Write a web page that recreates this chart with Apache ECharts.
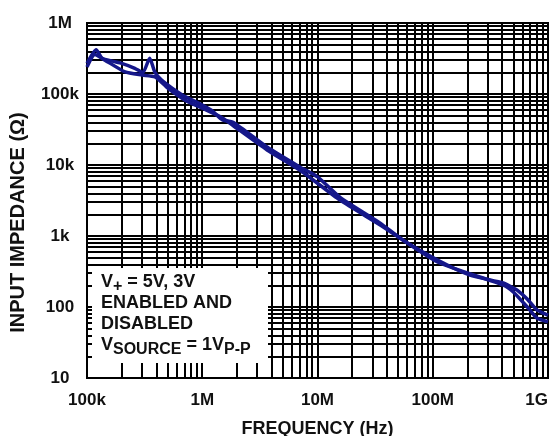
<!DOCTYPE html>
<html>
<head>
<meta charset="utf-8">
<script src="https://cdn.jsdelivr.net/npm/echarts@6/dist/echarts.min.js"></script>
<style>
html,body{margin:0;padding:0;background:#fff;}
#c{width:558px;height:436px;}
</style>
</head>
<body>
<div id="c"></div>
<script>
// ---- data ----
var xTickLabels = ['100k', '1M', '10M', '100M', '1G'];
var yTickLabels = ['10', '100', '1k', '10k', '100k', '1M'];

// curve 1 (with bump near 350kHz)
var freqA = [1.0e5, 1.2e5, 1.35e5, 1.65e5, 2.0e5, 2.6e5, 3.05e5, 3.5e5, 3.9e5, 4.75e5, 6.7e5, 9.2e5, 1.2e6, 1.5e6, 1.85e6, 3.65e6, 7.0e6, 1.0e7, 1.57e7, 3.5e7, 5.5e7, 1.1e8, 2.1e8, 4.1e8, 5.0e8, 5.4e8, 6.6e8, 8.0e8, 1.0e9];
var zA    = [2.7e5, 4.2e5, 3.2e5, 2.9e5, 2.7e5, 2.3e5, 2.0e5, 3.2e5, 2.0e5, 1.43e5, 9.7e4, 7.5e4, 5.9e4, 4.3e4, 4.0e4, 1.79e4, 9.4e3, 6.8e3, 3.5e3, 1.52e3, 880, 460, 282, 218, 185, 173, 130, 91, 77];

// curve 2
var freqB = [1.0e5, 1.17e5, 1.43e5, 2.14e5, 3.0e5, 3.9e5, 5.05e5, 7.1e5, 1.0e6, 1.5e6, 1.85e6, 3.65e6, 7.0e6, 1.57e7, 3.5e7, 1.1e8, 4.1e8, 5.0e8, 6.8e8, 8.0e8, 1.0e9];
var zB    = [2.4e5, 3.6e5, 3.0e5, 2.05e5, 1.85e5, 1.74e5, 1.2e5, 8.2e4, 6.3e4, 4.6e4, 3.6e4, 1.63e4, 8.5e3, 3.2e3, 1.43e3, 430, 204, 163, 95, 70, 62];

var xMin = 1e5, xMax = 1e9, yMin = 10, yMax = 1e6;
var minorMultiples = [2, 3, 4, 5, 6, 7, 8, 9];

// ---- build ----
function pairs(xs, ys) { return xs.map(function (x, i) { return [x, ys[i]]; }); }
function minorValues(lo, hi) {
  var out = [];
  for (var d = lo; d < hi; d *= 10) {
    minorMultiples.forEach(function (m) { out.push(d * m); });
  }
  return out;
}
var gridMarks = [];
minorValues(xMin, xMax).forEach(function (v) { gridMarks.push({ xAxis: v }); });
minorValues(yMin, yMax).forEach(function (v) { gridMarks.push({ yAxis: v }); });

var FONT = "'Liberation Sans', Arial, Helvetica, sans-serif";
var lineColor = '#15178a';

var chart = echarts.init(document.getElementById('c'), null, { renderer: 'canvas' });
chart.setOption({
  animation: false,
  backgroundColor: '#fff',
  grid: { left: 87, right: 10, top: 23, bottom: 58, containLabel: false, outerBoundsMode: 'none',
          show: true, borderColor: '#000', borderWidth: 2, backgroundColor: '#fff' },
  xAxis: {
    type: 'log', logBase: 10, min: xMin, max: xMax,
    name: 'FREQUENCY (Hz)', nameLocation: 'middle', nameGap: 42,
    nameTextStyle: { fontFamily: FONT, fontWeight: 'bold', fontSize: 18, color: '#111' },
    axisLine: { show: true, lineStyle: { color: '#000', width: 2 } },
    axisTick: { show: false },
    axisLabel: {
      margin: 14, fontFamily: FONT, fontWeight: 'bold', fontSize: 17, color: '#111',
      alignMaxLabel: 'right',
      formatter: function (v) { return xTickLabels[Math.round(Math.log10(v)) - 5] || ''; }
    },
    splitLine: { show: true, lineStyle: { color: '#000', width: 2 } },
    minorTick: { show: false }, minorSplitLine: { show: false }
  },
  yAxis: {
    type: 'log', logBase: 10, min: yMin, max: yMax,
    name: 'INPUT IMPEDANCE (Ω)', nameLocation: 'middle', nameGap: 59, nameRotate: 90,
    nameTextStyle: { fontFamily: FONT, fontWeight: 'bold', fontSize: 20, color: '#111', padding: [0, 44, 0, 0] },
    axisLine: { show: true, lineStyle: { color: '#000', width: 2 } },
    axisTick: { show: false },
    axisLabel: {
      margin: 27, align: 'center', fontFamily: FONT, fontWeight: 'bold', fontSize: 17, color: '#111',
      formatter: function (v) { return yTickLabels[Math.round(Math.log10(v)) - 1] || ''; }
    },
    splitLine: { show: true, lineStyle: { color: '#000', width: 2 } },
    minorTick: { show: false }, minorSplitLine: { show: false }
  },
  series: [
    {
      type: 'line', data: [], z: 1, silent: true,
      markLine: {
        silent: true, symbol: ['none', 'none'], animation: false,
        label: { show: false },
        lineStyle: { color: '#000', width: 2, type: 'solid' },
        emphasis: { disabled: true },
        data: gridMarks
      }
    },
    {
      type: 'line', data: pairs(freqA, zA), z: 5, showSymbol: false, smooth: 0.2,
      lineStyle: { color: lineColor, width: 3.5 }, itemStyle: { color: lineColor }
    },
    {
      type: 'line', data: pairs(freqB, zB), z: 5, showSymbol: false, smooth: 0.2,
      lineStyle: { color: lineColor, width: 3.5 }, itemStyle: { color: lineColor }
    }
  ],
  graphic: [
    { type: 'rect', z: 50, shape: { x: 92, y: 268, width: 176, height: 95 }, style: { fill: '#fff' } },
    {
      type: 'text', z: 51, left: 101, top: 270,
      style: {
        text: 'V{sub|+} = 5V, 3V\nENABLED AND\nDISABLED\nV{sub|SOURCE} = 1V{sub|P-P}',
        fontFamily: FONT, fontWeight: 'bold', fontSize: 18, lineHeight: 21, fill: '#111',
        rich: {
          sub: { fontFamily: FONT, fontWeight: 'bold', fontSize: 16, fill: '#111', padding: [9, 0, 0, 0], lineHeight: 21 }
        }
      }
    }
  ]
});
</script>
</body>
</html>
